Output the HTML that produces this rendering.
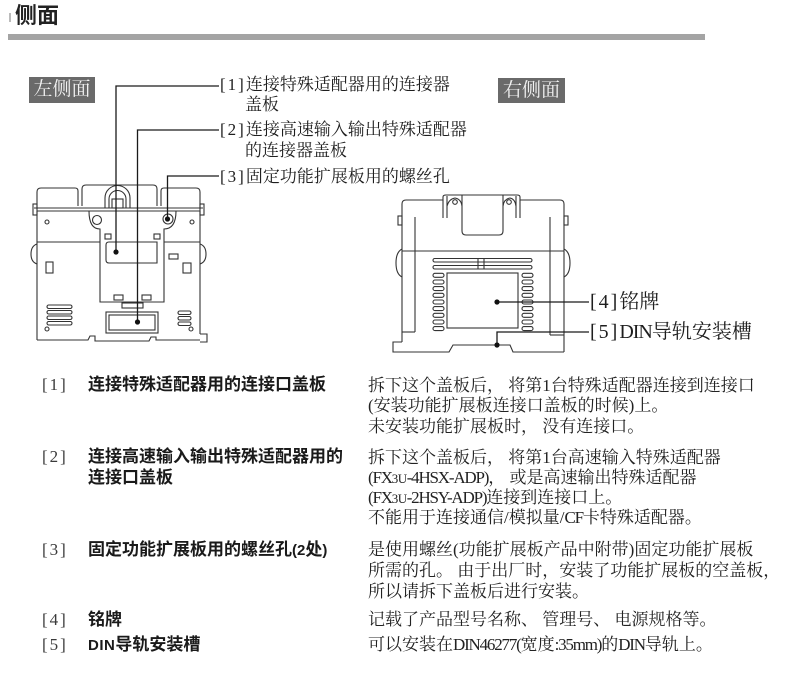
<!DOCTYPE html>
<html>
<head>
<meta charset="utf-8">
<style>
  html,body{margin:0;padding:0;background:#fff;}
  body{width:800px;height:676px;position:relative;overflow:hidden;}
  .t{position:absolute;white-space:nowrap;color:#1e1e1e;}
  .sf{font-family:"Liberation Serif","Noto Serif CJK SC",serif;}
  .ss{font-family:"Liberation Sans","Noto Sans CJK SC",sans-serif;}
  .lab{font-size:17px;line-height:20px;}
  .rlab{font-size:20px;line-height:24px;}
  .tag{position:absolute;background:#6a6a6a;color:#f2f2f2;font-family:"Liberation Serif","Noto Serif CJK SC",serif;font-size:19px;line-height:26px;text-align:center;white-space:nowrap;}
  .br{letter-spacing:2px;}
  .b{font-size:17px;line-height:20px;color:#3a3a3a;}
  .l{font-size:17px;line-height:20px;font-weight:bold;color:#1a1a1a;}
  .r{font-size:17px;line-height:20px;color:#222;}
  .m{font-family:"Liberation Serif",serif;font-size:17px;letter-spacing:-1.2px;line-height:1;}
  .m small{font-size:13px;letter-spacing:-0.5px;}
  .mb{font-family:"Liberation Sans",sans-serif;font-size:15px;font-weight:bold;line-height:1;}
</style>
</head>
<body>

<!-- title -->
<div class="t ss" style="left:15px;top:3px;font-size:22px;line-height:26px;font-weight:bold;color:#222;">侧面</div>
<div style="position:absolute;left:9px;top:13px;width:2px;height:9px;background:#bbb;"></div>
<div style="position:absolute;left:8px;top:34px;width:697px;height:6px;background:#a4a4a4;"></div>

<!-- tags -->
<div class="tag" style="left:29px;top:77px;width:66px;height:26px;">左侧面</div>
<div class="tag" style="left:498px;top:78px;width:67px;height:25px;">右侧面</div>

<svg width="800" height="676" style="position:absolute;left:0;top:0;" fill="none" stroke="#333" stroke-width="1.1">
  <!-- ===== LEFT DEVICE ===== -->
  <path d="M37,209 L37,192 Q37,188 41,188 L75,188 Q78,188 78,191 L78,206"/>
  <path d="M82,206 L82,189 Q82,185 86,185 L153,185 Q157,185 157,189 L157,206"/>
  <path d="M161,206 L161,191 Q161,188 164,188 L196,188 Q200,188 200,192 L200,209"/>
  <line x1="34" y1="208" x2="203" y2="208"/>
  <line x1="37" y1="211" x2="200" y2="211"/>
  <rect x="33" y="204" width="4" height="11"/>
  <rect x="200" y="204" width="4" height="11"/>
  <path d="M105,208 L105,198 A12.5,12.5 0 0 1 130,198 L130,208"/>
  <path d="M109,208 L109,199 A8.5,8.5 0 0 1 126,199 L126,208"/>
  <rect x="112" y="199" width="11" height="9"/>
  <line x1="37" y1="211" x2="37" y2="340"/>
  <line x1="200" y1="211" x2="200" y2="334"/>
  <path d="M37,244 Q31,246 31,254 Q31,262 37,264"/>
  <path d="M200,244 Q206,246 206,254 Q206,262 200,264"/>
  <line x1="37" y1="242" x2="100" y2="242"/>
  <line x1="164" y1="242" x2="200" y2="242"/>
  <path d="M37,340 L88,340 L90,336 L95,336 L95,341 L149,341 L151,337 L156,337 L156,340 L200,340"/>
  <path d="M200,334 L207,334 L207,342 L200,342"/>
  <path d="M89,211 Q89,229 100,229 L100,302 L164,302 L164,229 Q176,229 176,211"/>
  <rect x="122" y="303" width="21" height="5"/>
  <circle cx="97" cy="220" r="4.5"/>
  <circle cx="168" cy="219" r="5"/>
  <rect x="105" y="234" width="6" height="5"/>
  <rect x="154" y="234" width="6" height="5"/>
  <path d="M109,242 L157,242 L157,263 L109,263 Q106,263 106,260 L106,245 Q106,242 109,242"/>
  <rect x="114" y="295" width="9" height="5"/>
  <rect x="142" y="295" width="9" height="5"/>
  <rect x="106" y="312" width="52" height="21"/>
  <rect x="109" y="315" width="46" height="15"/>
  <rect x="46" y="262" width="7" height="11"/>
  <rect x="183" y="263" width="8" height="10"/>
  <rect x="169" y="254" width="9" height="5"/>
  <circle cx="47" cy="222" r="2"/>
  <circle cx="192" cy="222" r="2"/>
  <circle cx="47" cy="329" r="2"/>
  <circle cx="191" cy="329" r="2"/>
  <rect x="47" y="305" width="25" height="3.5" rx="1.7"/>
  <rect x="47" y="310.5" width="25" height="3.5" rx="1.7"/>
  <rect x="47" y="316" width="25" height="3.5" rx="1.7"/>
  <rect x="47" y="321.5" width="25" height="3.5" rx="1.7"/>
  <rect x="178" y="311" width="13" height="3.5" rx="1.7"/>
  <rect x="178" y="316.5" width="13" height="3.5" rx="1.7"/>
  <rect x="178" y="322" width="13" height="3.5" rx="1.7"/>

  <!-- ===== RIGHT DEVICE ===== -->
  <path d="M402,342 L402,204 Q402,200 406,200 L443,200 L443,197 Q443,195 446,195 L517,195 Q520,195 520,197 L520,200 L560,200 Q564,200 564,204 L564,352"/>
  <line x1="443" y1="200" x2="443" y2="218"/>
  <line x1="447" y1="196" x2="447" y2="218"/>
  <line x1="516" y1="196" x2="516" y2="218"/>
  <line x1="520" y1="200" x2="520" y2="218"/>
  <path d="M447,206 Q449,199 455,198 Q461,199 462,206"/>
  <path d="M503,206 Q504,199 510,198 Q515,199 516,206"/>
  <path d="M462,195 L462,231 Q462,235 466,235 L499,235 Q503,235 503,231 L503,195"/>
  <circle cx="455" cy="202" r="2.3"/>
  <circle cx="509" cy="202" r="2.3"/>
  <line x1="415" y1="217" x2="415" y2="332"/>
  <line x1="402" y1="332" x2="415" y2="332"/>
  <line x1="550" y1="217" x2="550" y2="335"/>
  <line x1="550" y1="335" x2="564" y2="335"/>
  <line x1="402" y1="251" x2="564" y2="251"/>
  <path d="M402,249 Q396,252 396,263 Q396,274 402,277"/>
  <path d="M564,249 Q570,252 570,263 Q570,274 564,277"/>
  <rect x="398" y="216" width="4" height="9"/>
  <rect x="564" y="216" width="4" height="9"/>
  <path d="M402,342 L393,342 L393,352 L449,352 L453,345 L510,345 L513,352 L564,352"/>
  <rect x="433" y="258.5" width="99" height="3.5" rx="1.7"/>
  <rect x="433" y="265.5" width="99" height="3.5" rx="1.7"/>
  <line x1="478" y1="258" x2="478" y2="269"/>
  <line x1="484" y1="258" x2="484" y2="269"/>
  <g>
    <rect x="433" y="273.3" width="11" height="4" rx="2"/>
    <rect x="433" y="280" width="11" height="4" rx="2"/>
    <rect x="433" y="286.6" width="11" height="4" rx="2"/>
    <rect x="433" y="293.3" width="11" height="4" rx="2"/>
    <rect x="433" y="300" width="11" height="4" rx="2"/>
    <rect x="433" y="306.6" width="11" height="4" rx="2"/>
    <rect x="433" y="313.3" width="11" height="4" rx="2"/>
    <rect x="433" y="320" width="11" height="4" rx="2"/>
    <rect x="433" y="326.6" width="11" height="4" rx="2"/>
    <rect x="522" y="273.3" width="11" height="4" rx="2"/>
    <rect x="522" y="280" width="11" height="4" rx="2"/>
    <rect x="522" y="286.6" width="11" height="4" rx="2"/>
    <rect x="522" y="293.3" width="11" height="4" rx="2"/>
    <rect x="522" y="300" width="11" height="4" rx="2"/>
    <rect x="522" y="306.6" width="11" height="4" rx="2"/>
    <rect x="522" y="313.3" width="11" height="4" rx="2"/>
    <rect x="522" y="320" width="11" height="4" rx="2"/>
    <rect x="522" y="326.6" width="11" height="4" rx="2"/>
  </g>
  <rect x="447" y="273" width="71" height="55"/>

  <!-- ===== LEADERS ===== -->
  <g stroke="#1a1a1a" stroke-width="1.3">
    <path d="M219,86 L116,86 L116,252"/>
    <path d="M219,130 L137.5,130 L137.5,322"/>
    <path d="M219,176 L167.5,176 L167.5,219"/>
    <path d="M497,302 L589,302"/>
    <path d="M497,345 L497,332 L589,332"/>
  </g>
  <g fill="#111" stroke="none">
    <circle cx="116" cy="252" r="2.6"/>
    <circle cx="137.5" cy="322" r="2.6"/>
    <circle cx="167.5" cy="219" r="2.6"/>
    <circle cx="497" cy="302" r="2.6"/>
    <circle cx="497" cy="345" r="2.6"/>
  </g>
</svg>

<!-- diagram labels -->
<div class="t sf lab" style="left:220px;top:75px;"><span class="br">[1]</span>连接特殊适配器用的连接器</div>
<div class="t sf lab" style="left:245px;top:95px;">盖板</div>
<div class="t sf lab" style="left:220px;top:120px;"><span class="br">[2]</span>连接高速输入输出特殊适配器</div>
<div class="t sf lab" style="left:245px;top:141px;">的连接器盖板</div>
<div class="t sf lab" style="left:220px;top:167px;"><span class="br">[3]</span>固定功能扩展板用的螺丝孔</div>

<div class="t sf rlab" style="left:590px;top:290px;"><span class="br">[4]</span>铭牌</div>
<div class="t sf rlab" style="left:590px;top:320px;"><span class="br">[5]</span><span style="letter-spacing:-1px;">DIN</span>导轨安装槽</div>

<!-- table row 1 -->
<div class="t sf b" style="left:42px;top:375px;"><span class="br">[1]</span></div>
<div class="t ss l" style="left:88px;top:375px;">连接特殊适配器用的连接口盖板</div>
<div class="t sf r" style="left:368px;top:376px;">拆下这个盖板后， 将第1台特殊适配器连接到连接口</div>
<div class="t sf r" style="left:368px;top:396px;">(安装功能扩展板连接口盖板的时候)上。</div>
<div class="t sf r" style="left:368px;top:417px;">未安装功能扩展板时， 没有连接口。</div>

<!-- row 2 -->
<div class="t sf b" style="left:42px;top:447px;"><span class="br">[2]</span></div>
<div class="t ss l" style="left:88px;top:447px;">连接高速输入输出特殊适配器用的</div>
<div class="t ss l" style="left:88px;top:468px;">连接口盖板</div>
<div class="t sf r" style="left:368px;top:448px;">拆下这个盖板后， 将第1台高速输入特殊适配器</div>
<div class="t sf r" style="left:368px;top:468px;"><span class="m">(FX<small>3U</small>-4HSX-ADP)</span>， 或是高速输出特殊适配器</div>
<div class="t sf r" style="left:368px;top:488px;"><span class="m">(FX<small>3U</small>-2HSY-ADP)</span>连接到连接口上。</div>
<div class="t sf r" style="left:368px;top:508px;">不能用于连接通信/模拟量/<span class="m">CF</span>卡特殊适配器。</div>

<!-- row 3 -->
<div class="t sf b" style="left:42px;top:540px;"><span class="br">[3]</span></div>
<div class="t ss l" style="left:88px;top:540px;">固定功能扩展板用的螺丝孔<span class="mb">(2</span>处<span class="mb">)</span></div>
<div class="t sf r" style="left:368px;top:540px;">是使用螺丝(功能扩展板产品中附带)固定功能扩展板</div>
<div class="t sf r" style="left:368px;top:561px;">所需的孔。 由于出厂时，安装了功能扩展板的空盖板，</div>
<div class="t sf r" style="left:368px;top:582px;">所以请拆下盖板后进行安装。</div>

<!-- row 4 -->
<div class="t sf b" style="left:42px;top:610px;"><span class="br">[4]</span></div>
<div class="t ss l" style="left:88px;top:610px;">铭牌</div>
<div class="t sf r" style="left:368px;top:610px;">记载了产品型号名称、 管理号、 电源规格等。</div>

<!-- row 5 -->
<div class="t sf b" style="left:42px;top:635px;"><span class="br">[5]</span></div>
<div class="t ss l" style="left:88px;top:635px;"><span class="mb" style="letter-spacing:0.5px;">DIN</span>导轨安装槽</div>
<div class="t sf r" style="left:368px;top:635px;">可以安装在<span class="m">DIN46277(</span>宽度<span class="m">:35mm)</span>的<span class="m">DIN</span>导轨上。</div>

</body>
</html>
